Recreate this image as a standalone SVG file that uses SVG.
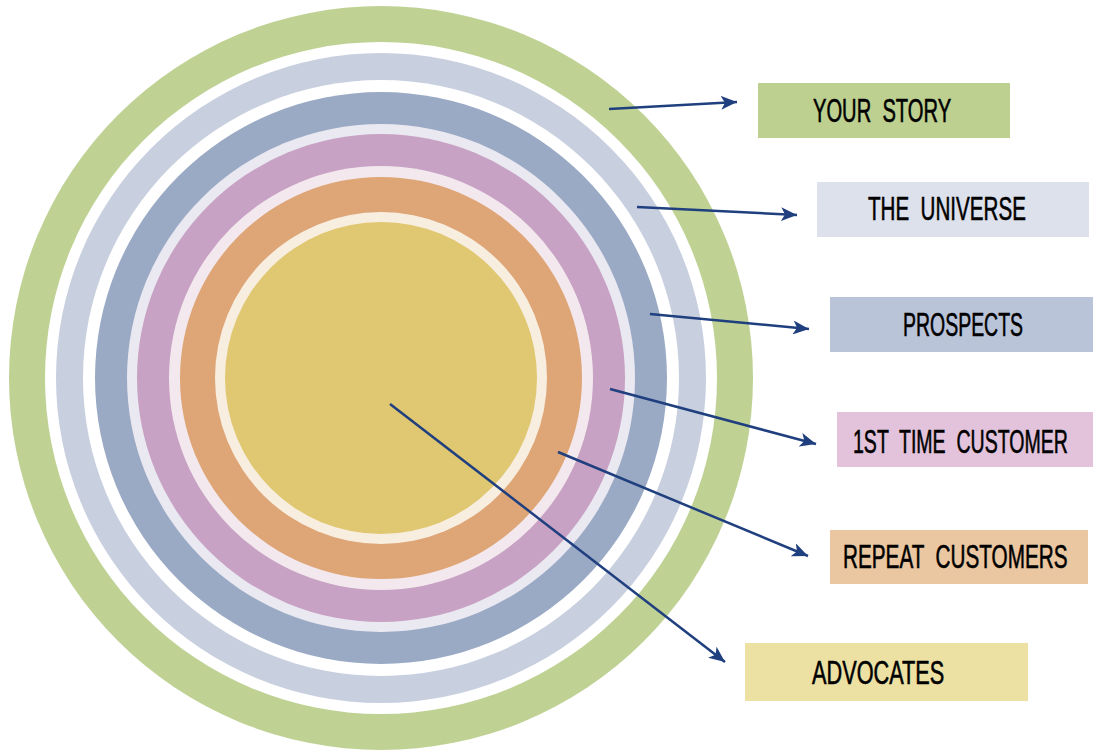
<svg xmlns="http://www.w3.org/2000/svg" width="1093" height="751" viewBox="0 0 1093 751">
  <defs>
    <marker id="arrowhead" markerUnits="userSpaceOnUse" markerWidth="18" markerHeight="14" refX="16" refY="7" orient="auto">
      <path d="M0,0 L16,7 L0,14 L4,7 z" fill="#1F3F7F"/>
    </marker>
  </defs>
  <style>
    .label { font-family: "Liberation Sans", Arial, sans-serif; font-size: 33px; fill: #000000; stroke: #000000; stroke-width: 0.6; white-space: pre; }
    .conn { stroke: #1F3F7F; stroke-width: 2.5; fill: none; marker-end: url(#arrowhead); }
  </style>

  <rect width="1093" height="751" fill="#FFFFFF"/>

  <!-- concentric rings, outermost first -->
  <g id="rings">
    <circle id="ring-your-story" cx="381" cy="378" r="372" fill="#BFD294"/>
    <circle cx="381" cy="378" r="336" fill="#FFFFFF"/>
    <circle id="ring-universe" cx="381" cy="378" r="325" fill="#C8CFDF"/>
    <circle cx="381" cy="378" r="298" fill="#FFFFFF"/>
    <circle id="ring-prospects" cx="381" cy="378" r="286" fill="#9AAAC5"/>
    <circle cx="381" cy="378" r="254" fill="#EAE8F1"/>
    <circle id="ring-first-time" cx="381" cy="378" r="244" fill="#C8A2C4"/>
    <circle cx="381" cy="378" r="212" fill="#F3E8ED"/>
    <circle id="ring-repeat" cx="381" cy="378" r="201" fill="#DEA577"/>
    <circle cx="381" cy="378" r="166" fill="#F8EEDF"/>
    <circle id="ring-advocates" cx="381" cy="378" r="156" fill="#E0C771"/>
  </g>

  <!-- label boxes (condensed lettering via horizontal scale) -->
  <g id="node-your-story">
    <rect x="758" y="83" width="252" height="55" fill="#BDD090"/>
    <text class="label" transform="translate(813,122) scale(0.611,1)" xml:space="preserve">YOUR  STORY</text>
  </g>
  <g id="node-universe">
    <rect x="817" y="182" width="272" height="55" fill="#DDE1EC"/>
    <text class="label" transform="translate(868,220) scale(0.624,1)" xml:space="preserve">THE  UNIVERSE</text>
  </g>
  <g id="node-prospects">
    <rect x="830" y="297" width="263" height="55" fill="#BAC4D8"/>
    <text class="label" transform="translate(903,336) scale(0.59,1)">PROSPECTS</text>
  </g>
  <g id="node-first-time">
    <rect x="837" y="412" width="256" height="55" fill="#E3C3DB"/>
    <text class="label" transform="translate(853,453) scale(0.592,1)" xml:space="preserve">1ST  TIME  CUSTOMER</text>
  </g>
  <g id="node-repeat">
    <rect x="830" y="530" width="258" height="54" fill="#EAC7A0"/>
    <text class="label" transform="translate(843,568) scale(0.628,1)" xml:space="preserve">REPEAT  CUSTOMERS</text>
  </g>
  <g id="node-advocates">
    <rect x="745" y="643" width="283" height="58" fill="#ECE0A3"/>
    <text class="label" transform="translate(812,684) scale(0.658,1)">ADVOCATES</text>
  </g>

  <!-- connectors from rings to labels -->
  <g id="connectors">
    <line class="conn" x1="609" y1="109" x2="737" y2="102"/>
    <line class="conn" x1="637" y1="207" x2="797" y2="215"/>
    <line class="conn" x1="650" y1="314" x2="809" y2="329"/>
    <line class="conn" x1="610" y1="389" x2="816" y2="444"/>
    <line class="conn" x1="558" y1="452" x2="808" y2="556"/>
    <line class="conn" x1="390" y1="404" x2="725" y2="662"/>
  </g>
</svg>
